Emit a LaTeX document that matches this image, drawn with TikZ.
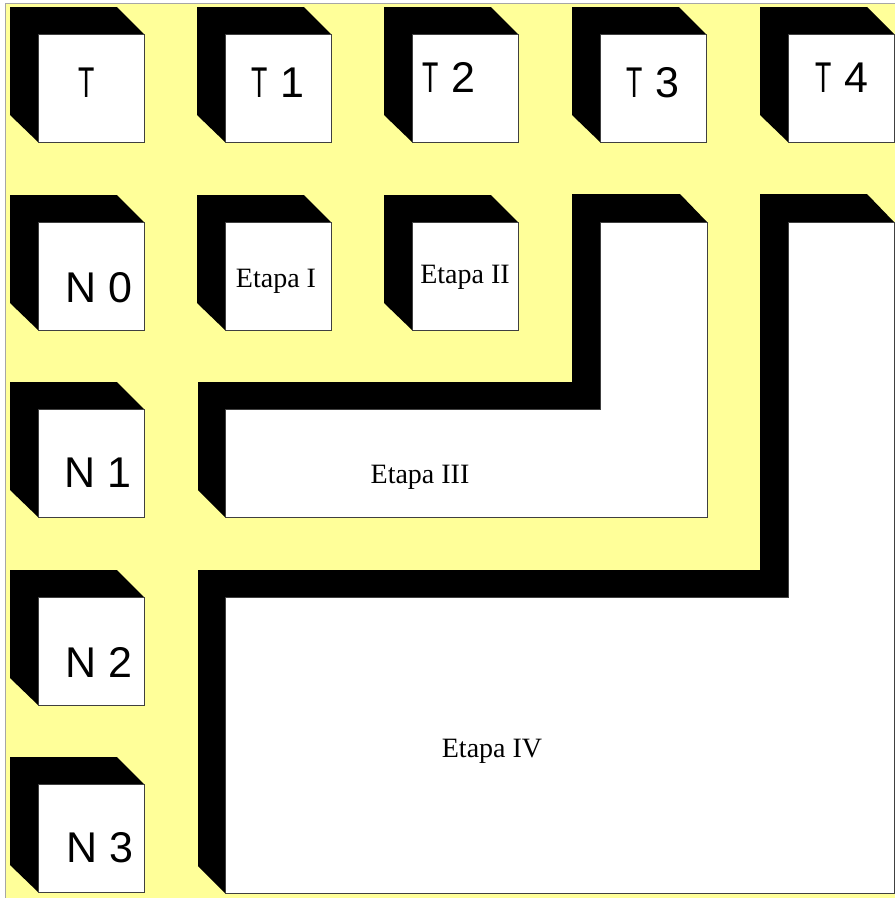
\documentclass[tikz,border=0pt]{standalone}
\usepackage{fontspec}
\usepackage{graphicx}
\newfontfamily\labsans{Liberation Sans}
\newfontfamily\labserif{Liberation Serif}
\definecolor{bgyellow}{HTML}{FFFF99}
\definecolor{facegray}{HTML}{404040}
\newcommand\narrowT{\scalebox{0.62}[1]{T}}
\tikzset{
  bgbox/.style={fill=bgyellow, draw=gray!70, line width=1pt},
  shadowc/.style={fill=black},
  facebox/.style={fill=white, draw=facegray, line width=0.9pt, inner sep=0pt, anchor=north west, minimum width=106pt, minimum height=108pt},
  facepoly/.style={fill=white, draw=facegray, line width=0.9pt},
  sanslab/.style={font=\labsans\fontsize{43}{48}\selectfont, anchor=base, inner sep=0pt},
  seriflab/.style={font=\labserif\fontsize{28}{32}\selectfont, anchor=base, inner sep=0pt}
}
\newcommand\mycube[3]{%
  \fill[shadowc] (#2-28,#3-27) -- (#2+79,#3-27) -- (#2+106,#3) -- (#2,#3+108) -- (#2-28,#3+81) -- cycle;
  \node[facebox] (#1) at (#2,#3) {};
}
\begin{document}
\begin{tikzpicture}[x=1pt,y=-1pt]
\useasboundingbox (0,0) rectangle (895,898);
\fill[white] (0,0) rectangle (895,898);
\draw[bgbox] (5,3) rectangle (897,900);
% cubes
\mycube{cT}{38}{34}
\mycube{cTa}{225}{34}
\mycube{cTb}{412}{34}
\mycube{cTc}{600}{34}
\mycube{cTd}{788}{34}
\mycube{cNa}{38}{222}
\mycube{cEa}{225}{222}
\mycube{cEb}{412}{222}
\mycube{cNb}{38}{409}
\mycube{cNc}{38}{597}
\mycube{cNd}{38}{784}
% Etapa III
\fill[shadowc] (198,382) -- (572,382) -- (572,194) -- (680,194) -- (707,222) -- (707,517) -- (225,517) -- (198,490) -- cycle;
\draw[facepoly] (225,409) -- (600,409) -- (600,222) -- (707,222) -- (707,517) -- (225,517) -- cycle;
% Etapa IV
\fill[shadowc] (198,570) -- (760,570) -- (760,194) -- (867,194) -- (894,222) -- (894,893) -- (225,893) -- (198,866) -- cycle;
\draw[facepoly] (225,597) -- (788,597) -- (788,222) -- (894,222) -- (894,893) -- (225,893) -- cycle;
% labels
\node[sanslab] (lT)  at (87,97)  {\narrowT};
\node[sanslab] (lT1) at (278,97) {\narrowT\ 1};
\node[sanslab] (lT2) at (449,92) {\narrowT\ 2};
\node[sanslab] (lT3) at (653,97) {\narrowT\ 3};
\node[sanslab] (lT4) at (842,92) {\narrowT\ 4};
\node[sanslab] (lN0) at (99,302) {N 0};
\node[sanslab] (lN1) at (98,487) {N 1};
\node[sanslab] (lN2) at (99,677) {N 2};
\node[sanslab] (lN3) at (100,862) {N 3};
\node[seriflab] (lE1) at (276,287) {Etapa I};
\node[seriflab] (lE2) at (465,283) {Etapa II};
\node[seriflab] (lE3) at (420,483) {Etapa III};
\node[seriflab] (lE4) at (492,757) {Etapa IV};
\end{tikzpicture}
\end{document}
